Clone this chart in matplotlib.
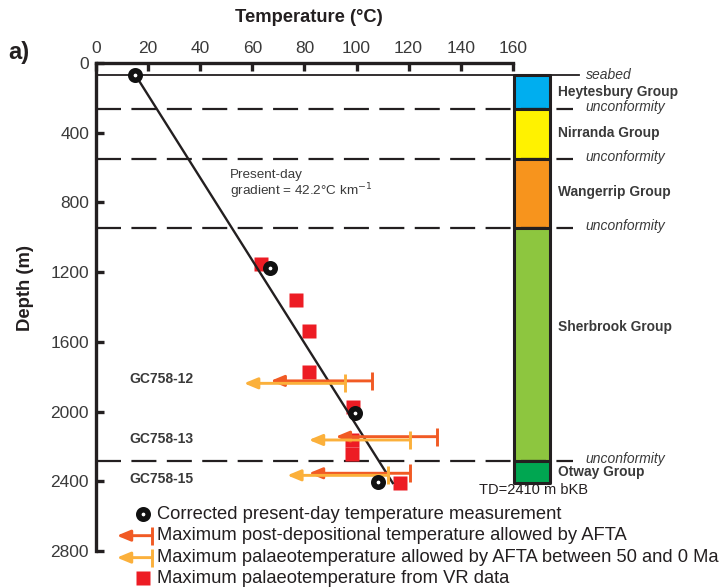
import numpy as np
import matplotlib
matplotlib.use('Agg')
import matplotlib.pyplot as plt

plt.rcParams['font.family'] = ['Liberation Sans', 'DejaVu Sans']
plt.rcParams['lines.scale_dashes'] = False

# Present-day temperatures (corrected)
present_T = [15.0, 66.8, 99.4, 108.4]
present_d = [66, 1176, 2010, 2402]

# Vitrinite reflectance palaeotemperatures
vr_T = [63.3, 76.8, 81.8, 81.8, 98.5, 98.2, 98.2, 116.7]
vr_d = [1153, 1360, 1538, 1771, 1972, 2163, 2243, 2412]

# AFTA samples
samples = ['GC758-12', 'GC758-13', 'GC758-15']
sample_label_d = [1815, 2160, 2385]
afta_max_T = [105.8, 130.8, 120.5]
afta_max_d = [1824, 2144, 2354]
afta_50_T = [95.6, 120.5, 112.2]
afta_50_d = [1838, 2163, 2366]

# Stratigraphy
seabed = 68
td = 2410
gradient = 42.2  # degC per km
group_names = ['Heytesbury Group', 'Nirranda Group', 'Wangerrip Group',
               'Sherbrook Group', 'Otway Group']
group_top = [68, 264, 551, 947, 2283]
group_base = [264, 551, 947, 2283, 2410]
group_label_d = [165, 403, 742, 1513, 2345]
group_colors = ['#00AEEF', '#FFF200', '#F7941D', '#8DC63F', '#00A651']

red_arrow = '#F15A24'
yel_arrow = '#FBB03B'
sq_red = '#ED1C24'
grey = '#3a3a3a'
arrow_style = '-|>,head_length=0.8,head_width=0.33'

fig = plt.figure(figsize=(7.27, 5.88), dpi=100)
ax = fig.add_axes([96/727, 37/588, 416.8/727, 488/588])
ax.set_xlim(0, 160)
ax.set_ylim(2800, 0)

ax.spines['right'].set_visible(False)
ax.spines['bottom'].set_visible(False)
ax.spines['top'].set_linewidth(2.4)
ax.spines['left'].set_linewidth(2.4)
ax.spines['top'].set_color('#231f20')
ax.spines['left'].set_color('#231f20')
ax.xaxis.tick_top()
ax.set_xticks(np.arange(0, 161, 20))
ax.set_yticks(np.arange(0, 2801, 400))
ax.tick_params(direction='in', length=6, width=2.4, color='#231f20',
               labelsize=12.5, labelcolor=grey)
ax.tick_params(axis='x', pad=5)
ax.tick_params(axis='y', pad=5)

fig.text(309/727, 1 - 18/588, 'Temperature (°C)', ha='center', va='center',
         fontsize=13.2, fontweight='bold', color='#231f20')
fig.text(26/727, 1 - 288/588, 'Depth (m)', ha='center', va='center',
         rotation=90, fontsize=13.3, fontweight='bold', color='#231f20')
fig.text(8/727, 1 - 53/588, 'a)', ha='left', va='center',
         fontsize=17, fontweight='bold', color='#231f20')

# seabed and unconformities
col_x0, col_x1 = 160.4, 174.3
ax.plot([0, 185.5], [seabed, seabed], color='#231f20', lw=1.3, clip_on=False)
for d in group_top[1:]:
    ax.plot([0, 183], [d, d], color='#231f20', lw=1.6, dashes=(18, 7.5),
            clip_on=False)
ax.text(188, seabed, 'seabed', style='italic', fontsize=10, color=grey,
        va='center', ha='left', clip_on=False)
for d in group_top[1:]:
    ax.text(188, d - 10, 'unconformity', style='italic', fontsize=10,
            color=grey, va='center', ha='left', clip_on=False)

# stratigraphic column
for name, top, base, c, ld in zip(group_names, group_top, group_base,
                                  group_colors, group_label_d):
    ax.fill_between([col_x0, col_x1], top, base, facecolor=c,
                    edgecolor='#231f20', lw=2.2, clip_on=False)
    ax.text(177.5, ld, name, fontsize=9.9, fontweight='bold', color=grey,
            va='center', ha='left', clip_on=False)
ax.text(147, 2452, 'TD=%d m bKB' % td, fontsize=10.5, color='#231f20',
        va='center', ha='left', clip_on=False)

# present-day gradient
grad_d = np.array([seabed, td])
grad_T = present_T[0] + gradient / 1000 * (grad_d - present_d[0])
ax.plot(grad_T, grad_d, color='#231f20', lw=1.7, zorder=3)
ax.text(51.5, 700, 'Present-day\ngradient = %.1f°C km$^{-1}$' % gradient,
        fontsize=9.7, color=grey, va='center', ha='left', linespacing=1.05)

# VR squares
ax.plot(vr_T, vr_d, 's', ms=10, color=sq_red, mec='none', zorder=2)

# AFTA arrows
arrow_len = 38.8


def draw_limit(T, d, color, z, length=arrow_len, clip=True):
    ax.annotate('', xy=(T - length, d), xytext=(T, d),
                arrowprops=dict(arrowstyle=arrow_style, mutation_scale=10,
                                color=color, lw=2.1, shrinkA=0, shrinkB=0),
                zorder=z, annotation_clip=clip)
    ax.plot([T], [d], marker='|', ms=13, mew=2.1, color=color, zorder=z,
            clip_on=clip)


for T, d in zip(afta_max_T, afta_max_d):
    draw_limit(T, d, red_arrow, 4)
for T, d in zip(afta_50_T, afta_50_d):
    draw_limit(T, d, yel_arrow, 5)
for s, d in zip(samples, sample_label_d):
    ax.text(13, d, s, fontsize=10, fontweight='bold', color=grey,
            va='center', ha='left')

# present-day circles
ax.plot(present_T, present_d, 'o', ms=6.8, mfc='white', mec='#111111',
        mew=4, zorder=6)

# legend drawn below the profile
leg_y = [2590, 2712, 2838, 2955]
ax.plot([18.0], [leg_y[0]], 'o', ms=6.8, mfc='white', mec='#111111', mew=4,
        clip_on=False)
draw_limit(21.5, leg_y[1], red_arrow, 4, length=13.5, clip=False)
draw_limit(21.5, leg_y[2], yel_arrow, 4, length=13.5, clip=False)
ax.plot([18.0], [leg_y[3]], 's', ms=10, color=sq_red, mec='none', clip_on=False)
leg_text = ['Corrected present-day temperature measurement',
            'Maximum post-depositional temperature allowed by AFTA',
            'Maximum palaeotemperature allowed by AFTA between 50 and 0 Ma',
            'Maximum palaeotemperature from VR data']
for yy, t in zip(leg_y, leg_text):
    ax.text(23.4, yy, t, fontsize=13.2, color='#231f20', va='center',
            ha='left', clip_on=False)

fig.savefig('out.png', dpi=100)
